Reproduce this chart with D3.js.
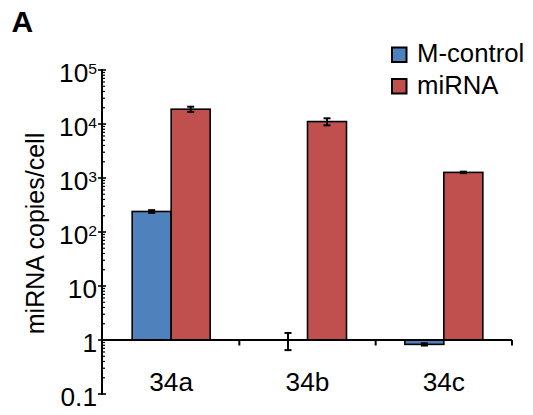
<!DOCTYPE html>
<html>
<head>
<meta charset="utf-8">
<script src="https://cdn.jsdelivr.net/npm/d3@7"></script>
<style>
  body { margin: 0; background: #fff; }
  text { font-family: "Liberation Sans", Arial, sans-serif; fill: #000; }
</style>
</head>
<body>
<svg id="chart" width="533" height="415"></svg>
<script>
// data
var categories = ["34a", "34b", "34c"];
var seriesNames = ["M-control", "miRNA"];
var controlValues = [240, 1, 0.83];
var controlErrors = [14, 0.35, 0.04];
var mirnaValues = [18800, 11100, 1270];
var mirnaErrors = [2100, 1650, 40];
var yTickValues = [0.1, 1, 10, 100, 1000, 10000, 100000];
var colors = ["#4f81bd", "#c0504d"];

var sx = 1.05; // glyphs in the figure are a touch wider than Arial

var svg = d3.select("#chart");

var x0 = d3.scaleBand().domain(categories).range([103, 512]);
var x1 = d3.scaleBand().domain(seriesNames).range([0, 78]);
var y = d3.scaleLog().domain([0.1, 100000]).range([394, 70]);

var flat = [];
categories.forEach(function(c, i) {
  flat.push({cat: c, s: seriesNames[0], v: controlValues[i], e: controlErrors[i], col: colors[0]});
  flat.push({cat: c, s: seriesNames[1], v: mirnaValues[i], e: mirnaErrors[i], col: colors[1]});
});

function barX(d) { return x0(d.cat) + (x0.bandwidth() - 78) / 2 + x1(d.s); }

// bars grow from 1
svg.append("g").selectAll("rect").data(flat.filter(function(d){ return d.v !== 1; })).enter()
  .append("rect")
  .attr("x", barX)
  .attr("y", function(d){ return Math.min(y(d.v), y(1)); })
  .attr("width", x1.bandwidth())
  .attr("height", function(d){ return Math.abs(y(1) - y(d.v)); })
  .attr("fill", function(d){ return d.col; })
  .attr("stroke", "#000")
  .attr("stroke-width", 1.6);

// error bars
var err = svg.append("g").attr("stroke", "#000").attr("stroke-width", 2);
flat.forEach(function(d) {
  var cx = barX(d) + x1.bandwidth() / 2;
  var top = y(d.v + d.e), bot = y(d.v - d.e);
  err.append("line").attr("x1", cx).attr("x2", cx).attr("y1", top).attr("y2", bot);
  err.append("line").attr("x1", cx - 3.5).attr("x2", cx + 3.5).attr("y1", top).attr("y2", top);
  err.append("line").attr("x1", cx - 3.5).attr("x2", cx + 3.5).attr("y1", bot).attr("y2", bot);
});

// y axis
var yAxisG = svg.append("g");
yAxisG.append("line").attr("x1", 102).attr("x2", 102).attr("y1", y(100000) - 1).attr("y2", y(0.1) + 1)
  .attr("stroke", "#000").attr("stroke-width", 2);
var minor = [];
for (var k = -1; k < 5; k++) {
  for (var m = 2; m <= 9; m++) minor.push(m * Math.pow(10, k));
}
yAxisG.selectAll(".minor").data(minor).enter().append("line")
  .attr("x1", 102).attr("x2", 105)
  .attr("y1", function(d){ return y(d); }).attr("y2", function(d){ return y(d); })
  .attr("stroke", "#000").attr("stroke-width", 1.2);
yAxisG.selectAll(".major").data(yTickValues).enter().append("line")
  .attr("x1", 98).attr("x2", 106)
  .attr("y1", function(d){ return y(d); }).attr("y2", function(d){ return y(d); })
  .attr("stroke", "#000").attr("stroke-width", 1.6);

var lbl = yAxisG.selectAll(".ylab").data(yTickValues).enter().append("text")
  .attr("transform", function(d){ return "translate(97," + (y(d) + 11.5) + ") scale(" + sx + ",1)"; })
  .attr("text-anchor", "end")
  .attr("font-size", 25);
lbl.each(function(d) {
  var t = d3.select(this);
  var p = Math.round(Math.log10(d));
  if (p >= 2) {
    t.append("tspan").text("10");
    t.append("tspan").attr("font-size", 15).attr("dy", -8).text(p);
  } else {
    t.text(d === 0.1 ? "0.1" : String(d));
  }
});

// x axis at 1
var xAxisG = svg.append("g");
xAxisG.append("line").attr("x1", 102).attr("x2", 512).attr("y1", y(1)).attr("y2", y(1))
  .attr("stroke", "#000").attr("stroke-width", 2);
xAxisG.selectAll(".xt").data(categories).enter().append("line")
  .attr("x1", function(d){ return x0(d) + x0.bandwidth(); })
  .attr("x2", function(d){ return x0(d) + x0.bandwidth(); })
  .attr("y1", y(1)).attr("y2", y(1) + 5.5)
  .attr("stroke", "#000").attr("stroke-width", 2);
xAxisG.selectAll(".xl").data(categories).enter().append("text")
  .attr("transform", function(d){ return "translate(" + (x0(d) + x0.bandwidth() / 2) + ",391) scale(" + sx + ",1)"; })
  .attr("text-anchor", "middle")
  .attr("font-size", 25)
  .text(function(d){ return d; });

// axis title
svg.append("text")
  .attr("transform", "translate(44,233.5) scale(" + sx + ",1) rotate(-90)")
  .attr("text-anchor", "middle")
  .attr("font-size", 25)
  .text("miRNA copies/cell");

// panel letter
svg.append("text").attr("x", 11.5).attr("y", 32.3)
  .attr("font-size", 30).attr("font-weight", "bold").text("A");

// legend
var leg = svg.append("g");
seriesNames.forEach(function(s, i) {
  var ly = 47.5 + i * 31.5;
  leg.append("rect").attr("x", 392).attr("y", ly).attr("width", 14.5).attr("height", 14.5)
    .attr("fill", colors[i]).attr("stroke", "#000").attr("stroke-width", 2);
  leg.append("text")
    .attr("transform", "translate(417," + (ly + 14.5) + ") scale(1.03,1)")
    .attr("font-size", 25).text(s);
});
</script>
</body>
</html>
